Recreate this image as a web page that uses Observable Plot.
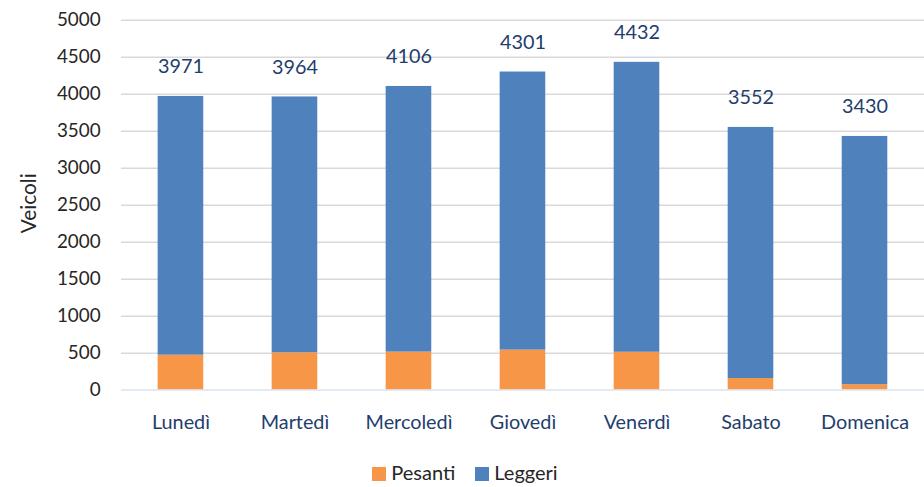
<!DOCTYPE html>
<html><head><meta charset="utf-8">
<script src="https://cdn.jsdelivr.net/npm/d3@7"></script>
<script src="https://cdn.jsdelivr.net/npm/@observablehq/plot@0.6"></script>
<style>
body{margin:0;background:#fff;overflow:hidden;width:924px;height:487px;font-family:Lato,"Open Sans",sans-serif;}
#legend{display:flex;justify-content:center;gap:20px;font-size:20px;color:#262626;margin-top:14px;padding-left:6px;line-height:24px}
#legend span.sw{display:inline-block;width:14px;height:14px;margin-right:5px;vertical-align:-1px}
</style></head><body>
<div id="chart"></div>
<div id="legend"></div>
<script>
const days = ["Lunedì","Martedì","Mercoledì","Giovedì","Venerdì","Sabato","Domenica"];
const totals = [3971,3964,4106,4301,4432,3552,3430];
const pesanti = [472,505,514,541,512,156,73];
const leggeri = totals.map((t,i)=>t-pesanti[i]);
const yTicks = [0,500,1000,1500,2000,2500,3000,3500,4000,4500,5000];
const seriesNames = ["Pesanti","Leggeri"];
const colors = ["#f79646","#4f81bd"];

const rows = [];
days.forEach((d,i)=>{
  rows.push({day:d, serie:"Pesanti", v:pesanti[i]});
  rows.push({day:d, serie:"Leggeri", v:leggeri[i]});
});
const tot = days.map((d,i)=>({day:d,total:totals[i]}));

const chart = Plot.plot({
  width: 932, height: 450,
  marginTop: 20, marginBottom: 57, marginLeft: 122, marginRight: 0,
  style:{fontFamily:"Lato, 'Open Sans', sans-serif", fontSize:"19px", background:"#fff"},
  x:{domain:days, paddingInner:0.6, paddingOuter:0.3, label:null},
  y:{domain:[0,5000], label:null},
  color:{domain:seriesNames, range:colors},
  marks:[
    Plot.ruleY(yTicks.filter(t=>t>0), {stroke:"#d9d9d9", strokeWidth:1.5}),
    Plot.barY(rows, Plot.stackY({x:"day", y:"v", fill:"serie", order:seriesNames})),
    Plot.ruleY([0], {stroke:"#d9e3f2", strokeWidth:1.5}),
    Plot.text(tot, {x:"day", y:"total", text:d=>String(d.total), dy:-30, fill:"#1f3e6e", fontSize:20}),
    Plot.axisY({ticks:yTicks, tickFormat:d3.format("d"), tickSize:0, tickPadding:21, fill:"#262626", fontSize:19, label:null}),
    Plot.axisX({tickSize:0, tickPadding:25, fill:"#1f3e6e", fontSize:20, label:null})
  ]
});
document.getElementById("chart").appendChild(chart);
d3.select(chart).append("text")
  .attr("transform","translate(36,205) rotate(-90)")
  .attr("text-anchor","middle")
  .attr("font-size",21).attr("fill","#262626")
  .text("Veicoli");
const lg = document.getElementById("legend");
seriesNames.forEach((s,i)=>{
  const e=document.createElement("div");
  e.innerHTML=`<span class="sw" style="background:${colors[i]}"></span>${s}`;
  lg.appendChild(e);
});
</script></body></html>
